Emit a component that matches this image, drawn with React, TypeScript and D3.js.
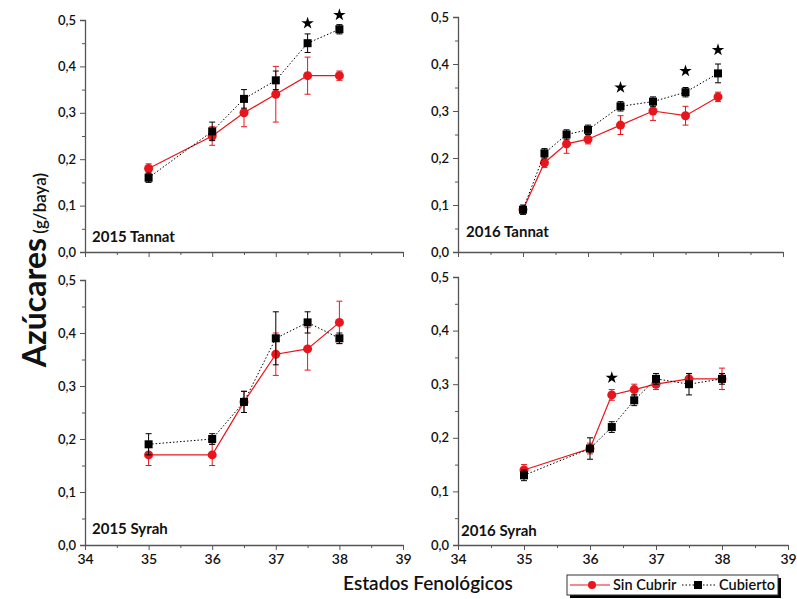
import React, { useEffect, useRef } from "react";
import * as d3 from "d3";

// x = estado fenológico, y = azúcares (g/baya)
const stages2015 = [35, 36, 36.5, 37, 37.5, 38];
const stagesTannat2016 = [35, 35.33, 35.67, 36, 36.5, 37, 37.5, 38];
const stagesSyrah2016 = [35, 36, 36.33, 36.67, 37, 37.5, 38];

const tannat2015Sin = [0.18, 0.25, 0.3, 0.34, 0.38, 0.38];
const tannat2015SinErr = [0.01, 0.02, 0.03, 0.06, 0.04, 0.01];
const tannat2015Cub = [0.16, 0.26, 0.33, 0.37, 0.45, 0.48];
const tannat2015CubErr = [0.01, 0.02, 0.02, 0.02, 0.02, 0.01];
const tannat2015Stars = [[37.5, 0.493], [38, 0.511]];

const tannat2016Sin = [0.09, 0.19, 0.23, 0.24, 0.27, 0.3, 0.29, 0.33];
const tannat2016SinErr = [0.005, 0.01, 0.02, 0.01, 0.02, 0.02, 0.02, 0.01];
const tannat2016Cub = [0.09, 0.21, 0.25, 0.26, 0.31, 0.32, 0.34, 0.38];
const tannat2016CubErr = [0.01, 0.01, 0.01, 0.01, 0.01, 0.01, 0.01, 0.02];
const tannat2016Stars = [[36.5, 0.35], [37.5, 0.385], [38, 0.43]];

const syrah2015Sin = [0.17, 0.17, 0.27, 0.36, 0.37, 0.42];
const syrah2015SinErr = [0.02, 0.02, 0.02, 0.04, 0.04, 0.04];
const syrah2015Cub = [0.19, 0.2, 0.27, 0.39, 0.42, 0.39];
const syrah2015CubErr = [0.02, 0.01, 0.02, 0.05, 0.02, 0.01];

const syrah2016Sin = [0.14, 0.18, 0.28, 0.29, 0.3, 0.31, 0.31];
const syrah2016SinErr = [0.01, 0.01, 0.01, 0.01, 0.01, 0.01, 0.02];
const syrah2016Cub = [0.13, 0.18, 0.22, 0.27, 0.31, 0.3, 0.31];
const syrah2016CubErr = [0.01, 0.02, 0.01, 0.01, 0.01, 0.02, 0.01];
const syrah2016Stars = [[36.33, 0.312]];

const yTicks = [0, 0.1, 0.2, 0.3, 0.4, 0.5];
const xTicks = [34, 35, 36, 37, 38, 39];

const RED = "#e8161c";
const FONT = "Lato, 'DejaVu Sans', sans-serif";

const panels = [
  { label: "2015 Tannat", x: stages2015, sin: tannat2015Sin, sinErr: tannat2015SinErr, cub: tannat2015Cub, cubErr: tannat2015CubErr, stars: tannat2015Stars, left: 85, right: 403, top: 20, bottom: 252, xLabels: false, lx: 92, ly: 242 },
  { label: "2016 Tannat", x: stagesTannat2016, sin: tannat2016Sin, sinErr: tannat2016SinErr, cub: tannat2016Cub, cubErr: tannat2016CubErr, stars: tannat2016Stars, left: 458, right: 783, top: 17, bottom: 252, xLabels: false, lx: 466, ly: 237 },
  { label: "2015 Syrah", x: stages2015, sin: syrah2015Sin, sinErr: syrah2015SinErr, cub: syrah2015Cub, cubErr: syrah2015CubErr, stars: [], left: 85, right: 403, top: 280, bottom: 545, xLabels: true, lx: 92, ly: 534 },
  { label: "2016 Syrah", x: stagesSyrah2016, sin: syrah2016Sin, sinErr: syrah2016SinErr, cub: syrah2016Cub, cubErr: syrah2016CubErr, stars: syrah2016Stars, left: 458, right: 788, top: 277, bottom: 545, xLabels: true, lx: 461, ly: 536 },
];

const fmt = (v: number) => v.toFixed(1).replace(".", ",");

export default function App() {
  const svgRef = useRef<SVGSVGElement>(null);

  useEffect(() => {
    const svg = d3.select(svgRef.current);
    svg.selectAll("*").remove();

    panels.forEach((p) => {
      const xScale = d3.scaleLinear().domain([34, 39]).range([p.left, p.right]);
      const yScale = d3.scaleLinear().domain([0, 0.5]).range([p.bottom, p.top]);
      const g = svg.append("g");

      // axes
      const yAxis = d3.axisLeft(yScale).tickValues(yTicks).tickFormat((d) => fmt(+d)).tickSize(5).tickPadding(4);
      const gy = g.append("g").attr("transform", `translate(${p.left},0)`).call(yAxis);
      gy.select(".domain").attr("stroke", "#555").attr("stroke-width", 1.3);
      gy.selectAll(".tick line").attr("stroke", "#555");
      gy.selectAll("text").attr("font-family", FONT).attr("font-size", 13).attr("font-weight", 600).attr("fill", "#111");
      g.append("g")
        .attr("transform", `translate(${p.left},0)`)
        .call(d3.axisLeft(yScale).tickValues(d3.range(0.05, 0.5, 0.1)).tickFormat(() => "").tickSize(3))
        .call((s) => s.select(".domain").remove())
        .selectAll(".tick line").attr("stroke", "#555");

      const xAxis = d3.axisBottom(xScale).tickValues(xTicks).tickSize(5).tickSizeOuter(0).tickPadding(4)
        .tickFormat((d) => (p.xLabels ? String(d) : ""));
      const gx = g.append("g").attr("transform", `translate(0,${p.bottom})`).call(xAxis);
      gx.select(".domain").attr("stroke", "#555").attr("stroke-width", 1.3);
      gx.selectAll(".tick line").attr("stroke", "#555");
      gx.selectAll("text").attr("font-family", FONT).attr("font-size", 14).attr("font-weight", 600).attr("fill", "#111");
      g.append("g")
        .attr("transform", `translate(0,${p.bottom})`)
        .call(d3.axisBottom(xScale).tickValues(d3.range(34.5, 39, 1)).tickFormat(() => "").tickSize(3))
        .call((s) => s.select(".domain").remove())
        .selectAll(".tick line").attr("stroke", "#555");

      const line = d3.line<number>().x((_, i) => xScale(p.x[i])).y((d) => yScale(d));

      const drawSeries = (vals: number[], errs: number[], color: string, dotted: boolean, square: boolean) => {
        g.append("path").datum(vals).attr("d", line).attr("fill", "none")
          .attr("stroke", color).attr("stroke-width", dotted ? 1 : 1.2)
          .attr("stroke-dasharray", dotted ? "1.5,2" : null);
        const eb = g.append("g").attr("stroke", color).attr("stroke-width", 1);
        vals.forEach((v, i) => {
          const cx = xScale(p.x[i]);
          const y1 = yScale(v - errs[i]);
          const y2 = yScale(v + errs[i]);
          eb.append("line").attr("x1", cx).attr("x2", cx).attr("y1", y1).attr("y2", y2);
          eb.append("line").attr("x1", cx - 3).attr("x2", cx + 3).attr("y1", y1).attr("y2", y1);
          eb.append("line").attr("x1", cx - 3).attr("x2", cx + 3).attr("y1", y2).attr("y2", y2);
        });
        if (square) {
          g.selectAll(null).data(vals).join("rect")
            .attr("x", (_, i) => xScale(p.x[i]) - 4).attr("y", (d) => yScale(d) - 4)
            .attr("width", 8).attr("height", 8).attr("fill", color);
        } else {
          g.selectAll(null).data(vals).join("circle")
            .attr("cx", (_, i) => xScale(p.x[i])).attr("cy", (d) => yScale(d))
            .attr("r", 4.5).attr("fill", color);
        }
      };

      drawSeries(p.sin, p.sinErr, RED, false, false);
      drawSeries(p.cub, p.cubErr, "#000", true, true);

      g.selectAll(null).data(p.stars).join("path")
        .attr("d", d3.symbol(d3.symbolStar, 48)())
        .attr("transform", (d) => `translate(${xScale(d[0])},${yScale(d[1])})`)
        .attr("fill", "#000");

      g.append("text").attr("x", p.lx).attr("y", p.ly).text(p.label)
        .attr("font-family", FONT).attr("font-size", 15).attr("font-weight", 700).attr("fill", "#111");
    });

    // axis titles
    const yt = svg.append("text")
      .attr("transform", "translate(46,270) rotate(-90)")
      .attr("text-anchor", "middle").attr("font-family", FONT).attr("fill", "#111");
    yt.append("tspan").text("Azúcares").attr("font-size", 32).attr("font-weight", 700);
    yt.append("tspan").text(" (g/baya)").attr("font-size", 17).attr("font-weight", 600);

    svg.append("text").attr("x", 428).attr("y", 590).attr("text-anchor", "middle")
      .attr("font-family", FONT).attr("font-size", 19).attr("font-weight", 600).attr("fill", "#111")
      .text("Estados Fenológicos");

    // legend
    const lg = svg.append("g");
    lg.append("rect").attr("x", 570).attr("y", 578).attr("width", 211).attr("height", 20).attr("fill", "#000");
    lg.append("rect").attr("x", 567).attr("y", 575).attr("width", 211).attr("height", 20)
      .attr("fill", "#fff").attr("stroke", "#333").attr("stroke-width", 1);
    lg.append("line").attr("x1", 570).attr("x2", 610).attr("y1", 585).attr("y2", 585).attr("stroke", RED).attr("stroke-width", 1.2);
    lg.append("circle").attr("cx", 592).attr("cy", 585).attr("r", 4).attr("fill", RED);
    lg.append("text").attr("x", 613).attr("y", 590).text("Sin Cubrir")
      .attr("font-family", FONT).attr("font-size", 14.5).attr("font-weight", 600).attr("fill", "#111");
    lg.append("line").attr("x1", 682).attr("x2", 716).attr("y1", 585).attr("y2", 585)
      .attr("stroke", "#000").attr("stroke-dasharray", "1.5,2");
    lg.append("rect").attr("x", 694).attr("y", 581).attr("width", 8).attr("height", 8).attr("fill", "#000");
    lg.append("text").attr("x", 719).attr("y", 590).text("Cubierto")
      .attr("font-family", FONT).attr("font-size", 14.5).attr("font-weight", 600).attr("fill", "#111");
  }, []);

  return (
    <svg ref={svgRef} width={797} height={599} style={{ position: "absolute", left: 0, top: 0, background: "#fff" }} />
  );
}
